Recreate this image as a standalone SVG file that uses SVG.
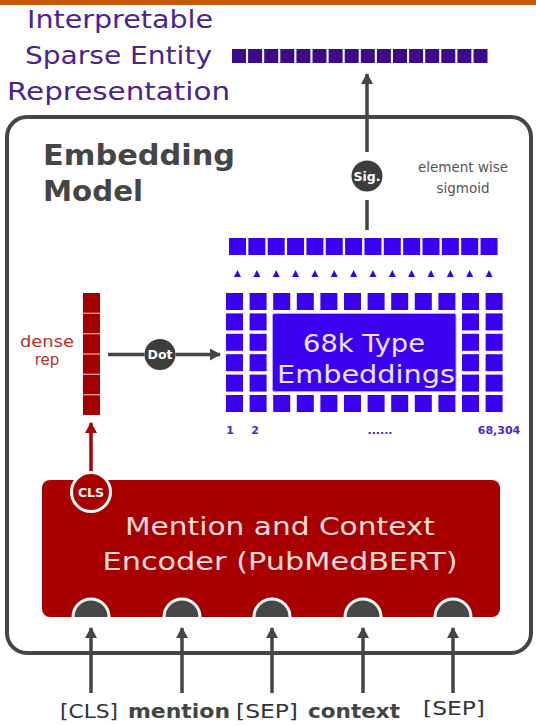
<svg xmlns="http://www.w3.org/2000/svg" width="536" height="725" viewBox="0 0 536 725">
<style>
  text { font-family: "DejaVu Sans", "Open Sans", sans-serif; }
  .title { fill: #4a2490; font-size: 24px; }
  .head { fill: #454545; font-size: 28px; font-weight: bold; }
  .note { fill: #555; font-size: 13.5px; }
  .dense { fill: #b5302e; font-size: 15px; }
  .emb { fill: #ece4ff; font-size: 24px; }
  .idx { fill: #4326d8; font-size: 11px; font-weight: bold; }
  .enc { fill: #f8dcdc; font-size: 24px; }
  .tok { fill: #333; font-size: 20px; }
  .tokb { fill: #444; font-size: 20px; font-weight: bold; }
  .op { fill: #fff; font-size: 12.5px; font-weight: bold; }
  .conn { stroke: #454545; stroke-width: 3.5; fill: none; }
  .sq { fill: #3c00f0; }
  .sp { fill: #3a0a8c; }
</style>
<defs>
  <marker id="ah" markerUnits="userSpaceOnUse" markerWidth="12" markerHeight="12" refX="10" refY="6" orient="auto">
    <path d="M0,0 L11,6 L0,12 Z" fill="#454545"/>
  </marker>
  <marker id="ahr" markerUnits="userSpaceOnUse" markerWidth="12" markerHeight="12" refX="10" refY="6" orient="auto">
    <path d="M0,0 L11,6 L0,12 Z" fill="#a80000"/>
  </marker>
</defs>

<rect x="0" y="0" width="536" height="5" fill="#c45a0a"/>

<g id="output">
  <text class="title" x="27" y="28" textLength="186" lengthAdjust="spacingAndGlyphs">Interpretable</text>
  <text class="title" x="25" y="64" textLength="187" lengthAdjust="spacingAndGlyphs">Sparse Entity</text>
  <text class="title" x="7" y="100" textLength="223" lengthAdjust="spacingAndGlyphs">Representation</text>
  <g class="sp">
    <rect x="232" y="49" width="14" height="14"/><rect x="248.1" y="49" width="14" height="14"/>
    <rect x="264.2" y="49" width="14" height="14"/><rect x="280.3" y="49" width="14" height="14"/>
    <rect x="296.4" y="49" width="14" height="14"/><rect x="312.5" y="49" width="14" height="14"/>
    <rect x="328.6" y="49" width="14" height="14"/><rect x="344.7" y="49" width="14" height="14"/>
    <rect x="360.8" y="49" width="14" height="14"/><rect x="376.9" y="49" width="14" height="14"/>
    <rect x="393" y="49" width="14" height="14"/><rect x="409.1" y="49" width="14" height="14"/>
    <rect x="425.2" y="49" width="14" height="14"/><rect x="441.3" y="49" width="14" height="14"/>
    <rect x="457.4" y="49" width="14" height="14"/><rect x="473.5" y="49" width="14" height="14"/>
  </g>
</g>

<g id="embedding-model">
  <rect x="7" y="117" width="524" height="536" rx="20" fill="none" stroke="#454545" stroke-width="4"/>
  <text class="head" x="43" y="165" textLength="192" lengthAdjust="spacingAndGlyphs">Embedding</text>
  <text class="head" x="43" y="201" textLength="100" lengthAdjust="spacingAndGlyphs">Model</text>
</g>

<g id="sigmoid">
  <circle cx="367" cy="176" r="15.5" fill="#3d3d3d"/>
  <text class="op" x="367" y="180.5" text-anchor="middle">Sig.</text>
  <text class="note" x="463" y="172" text-anchor="middle">element wise</text>
  <text class="note" x="463" y="193" text-anchor="middle">sigmoid</text>
</g>

<g id="scores">
  <g class="sq">
    <rect x="229" y="238" width="17" height="17"/><rect x="248.35" y="238" width="17" height="17"/>
    <rect x="267.7" y="238" width="17" height="17"/><rect x="287.05" y="238" width="17" height="17"/>
    <rect x="306.4" y="238" width="17" height="17"/><rect x="325.75" y="238" width="17" height="17"/>
    <rect x="345.1" y="238" width="17" height="17"/><rect x="364.45" y="238" width="17" height="17"/>
    <rect x="383.8" y="238" width="17" height="17"/><rect x="403.15" y="238" width="17" height="17"/>
    <rect x="422.5" y="238" width="17" height="17"/><rect x="441.85" y="238" width="17" height="17"/>
    <rect x="461.2" y="238" width="17" height="17"/><rect x="480.55" y="238" width="17" height="17"/>
  </g>
  <g class="sq">
    <polygon points="234,277 241,277 237.5,270"/><polygon points="253.35,277 260.35,277 256.85,270"/>
    <polygon points="272.7,277 279.7,277 276.2,270"/><polygon points="292.05,277 299.05,277 295.55,270"/>
    <polygon points="311.4,277 318.4,277 314.9,270"/><polygon points="330.75,277 337.75,277 334.25,270"/>
    <polygon points="350.1,277 357.1,277 353.6,270"/><polygon points="369.45,277 376.45,277 372.95,270"/>
    <polygon points="388.8,277 395.8,277 392.3,270"/><polygon points="408.15,277 415.15,277 411.65,270"/>
    <polygon points="427.5,277 434.5,277 431,270"/><polygon points="446.85,277 453.85,277 450.35,270"/>
    <polygon points="466.2,277 473.2,277 469.7,270"/><polygon points="485.55,277 492.55,277 489.05,270"/>
  </g>
</g>

<g id="type-embeddings">
  <g class="sq">
    <rect x="226" y="293" width="17" height="17"/><rect x="226" y="313.4" width="17" height="17"/><rect x="226" y="333.8" width="17" height="17"/><rect x="226" y="354.2" width="17" height="17"/><rect x="226" y="374.6" width="17" height="17"/><rect x="226" y="395" width="17" height="17"/>
    <rect x="249.6" y="293" width="17" height="17"/><rect x="249.6" y="313.4" width="17" height="17"/><rect x="249.6" y="333.8" width="17" height="17"/><rect x="249.6" y="354.2" width="17" height="17"/><rect x="249.6" y="374.6" width="17" height="17"/><rect x="249.6" y="395" width="17" height="17"/>
    <rect x="273.2" y="293" width="17" height="17"/><rect x="273.2" y="395" width="17" height="17"/>
    <rect x="296.8" y="293" width="17" height="17"/><rect x="296.8" y="395" width="17" height="17"/>
    <rect x="320.4" y="293" width="17" height="17"/><rect x="320.4" y="395" width="17" height="17"/>
    <rect x="344" y="293" width="17" height="17"/><rect x="344" y="395" width="17" height="17"/>
    <rect x="367.6" y="293" width="17" height="17"/><rect x="367.6" y="395" width="17" height="17"/>
    <rect x="391.2" y="293" width="17" height="17"/><rect x="391.2" y="395" width="17" height="17"/>
    <rect x="414.8" y="293" width="17" height="17"/><rect x="414.8" y="395" width="17" height="17"/>
    <rect x="438.4" y="293" width="17" height="17"/><rect x="438.4" y="395" width="17" height="17"/>
    <rect x="462" y="293" width="17" height="17"/><rect x="462" y="313.4" width="17" height="17"/><rect x="462" y="333.8" width="17" height="17"/><rect x="462" y="354.2" width="17" height="17"/><rect x="462" y="374.6" width="17" height="17"/><rect x="462" y="395" width="17" height="17"/>
    <rect x="485.6" y="293" width="17" height="17"/><rect x="485.6" y="313.4" width="17" height="17"/><rect x="485.6" y="333.8" width="17" height="17"/><rect x="485.6" y="354.2" width="17" height="17"/><rect x="485.6" y="374.6" width="17" height="17"/><rect x="485.6" y="395" width="17" height="17"/>
  </g>
  <rect x="272.5" y="313.4" width="183.5" height="78.2" rx="2" fill="#3c00f0" stroke="#b9a6ff" stroke-width="1"/>
  <text class="emb" x="364" y="352" text-anchor="middle" textLength="122" lengthAdjust="spacingAndGlyphs">68k Type</text>
  <text class="emb" x="366" y="383" text-anchor="middle" textLength="178" lengthAdjust="spacingAndGlyphs">Embeddings</text>
  <text class="idx" x="230" y="434" text-anchor="middle">1</text>
  <text class="idx" x="255" y="434" text-anchor="middle">2</text>
  <text class="idx" x="380" y="434" text-anchor="middle">......</text>
  <text class="idx" x="499" y="434" text-anchor="middle">68,304</text>
</g>

<g id="dense-rep">
  <rect x="83" y="293" width="17" height="122" fill="#a50000"/>
  <g stroke="#f0b0b0" stroke-width="1.2">
    <line x1="83" y1="313.3" x2="100" y2="313.3"/><line x1="83" y1="333.7" x2="100" y2="333.7"/>
    <line x1="83" y1="354" x2="100" y2="354"/><line x1="83" y1="374.3" x2="100" y2="374.3"/>
    <line x1="83" y1="394.7" x2="100" y2="394.7"/>
  </g>
  <text class="dense" x="47" y="347" text-anchor="middle" textLength="54" lengthAdjust="spacingAndGlyphs">dense</text>
  <text class="dense" x="47" y="365" text-anchor="middle">rep</text>
</g>

<g id="dot">
  <circle cx="160" cy="354.5" r="15.5" fill="#3d3d3d"/>
  <text class="op" x="160" y="359" text-anchor="middle">Dot</text>
</g>

<g id="encoder">
  <rect x="42" y="480" width="458" height="137" rx="8" fill="#a80000"/>
  <text class="enc" x="280" y="535" text-anchor="middle" textLength="310" lengthAdjust="spacingAndGlyphs">Mention and Context</text>
  <text class="enc" x="280" y="570" text-anchor="middle" textLength="355" lengthAdjust="spacingAndGlyphs">Encoder (PubMedBERT)</text>
  <circle cx="91" cy="492" r="19.5" fill="#a80000" stroke="#fff" stroke-width="3"/>
  <text class="op" x="91" y="496.5" text-anchor="middle">CLS</text>
  <g fill="#474747">
    <path d="M73,617 A18 18 0 0 1 109,617 Z"/>
    <path d="M164,617 A18 18 0 0 1 200,617 Z"/>
    <path d="M254,617 A18 18 0 0 1 290,617 Z"/>
    <path d="M345,617 A18 18 0 0 1 381,617 Z"/>
    <path d="M435,617 A18 18 0 0 1 471,617 Z"/>
  </g>
  <g fill="none" stroke="#fff" stroke-width="3">
    <path d="M73,617 A18 18 0 0 1 109,617"/>
    <path d="M164,617 A18 18 0 0 1 200,617"/>
    <path d="M254,617 A18 18 0 0 1 290,617"/>
    <path d="M345,617 A18 18 0 0 1 381,617"/>
    <path d="M435,617 A18 18 0 0 1 471,617"/>
  </g>
</g>

<g id="tokens">
  <text class="tok" x="89" y="718" text-anchor="middle" textLength="58" lengthAdjust="spacingAndGlyphs">[CLS]</text>
  <text class="tokb" x="179" y="718" text-anchor="middle" textLength="102" lengthAdjust="spacingAndGlyphs">mention</text>
  <text class="tok" x="267" y="718" text-anchor="middle" textLength="62" lengthAdjust="spacingAndGlyphs">[SEP]</text>
  <text class="tokb" x="354" y="718" text-anchor="middle" textLength="92" lengthAdjust="spacingAndGlyphs">context</text>
  <text class="tok" x="454" y="715" text-anchor="middle" textLength="62" lengthAdjust="spacingAndGlyphs">[SEP]</text>
</g>

<g id="connectors">
  <line class="conn" x1="367" y1="152" x2="367" y2="74" marker-end="url(#ah)"/>
  <line class="conn" x1="367" y1="200" x2="367" y2="230"/>
  <line class="conn" x1="108" y1="354.5" x2="144.5" y2="354.5"/>
  <line class="conn" x1="175.5" y1="354.5" x2="220" y2="354.5" marker-end="url(#ah)"/>
  <line x1="91" y1="471" x2="91" y2="423" stroke="#a80000" stroke-width="3.5" marker-end="url(#ahr)"/>
  <line class="conn" x1="91" y1="693" x2="91" y2="628" marker-end="url(#ah)"/>
  <line class="conn" x1="182" y1="693" x2="182" y2="628" marker-end="url(#ah)"/>
  <line class="conn" x1="272" y1="693" x2="272" y2="628" marker-end="url(#ah)"/>
  <line class="conn" x1="363" y1="693" x2="363" y2="628" marker-end="url(#ah)"/>
  <line class="conn" x1="453" y1="693" x2="453" y2="628" marker-end="url(#ah)"/>
</g>
</svg>
